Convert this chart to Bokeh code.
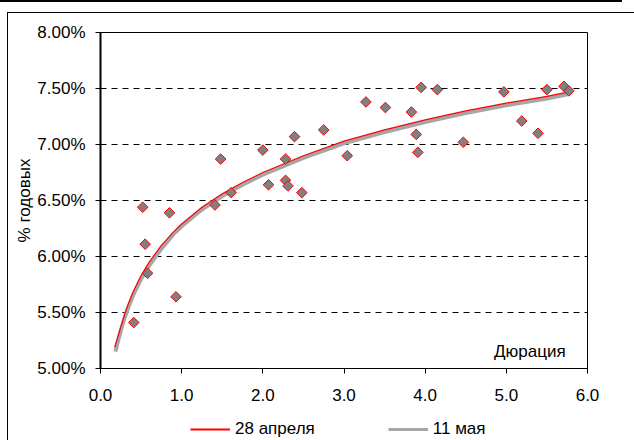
from bokeh.plotting import figure
from bokeh.layouts import column
from bokeh.models import (FixedTicker, PrintfTickFormatter, Legend, LegendItem,
                          Label, ColumnDataSource)
from bokeh.embed import file_html
from bokeh.resources import INLINE

# scatter points (duration, yield %)
dur = [0.41, 0.52, 0.55, 0.58, 0.85, 0.93, 1.41, 1.48, 1.61, 2.00, 2.07, 2.28,
       2.28, 2.31, 2.39, 2.48, 2.75, 3.04, 3.27, 3.51, 3.83, 3.89, 3.91, 3.95,
       4.15, 4.47, 4.97, 5.19, 5.39, 5.50, 5.71, 5.77]
yld = [5.41, 6.44, 6.11, 5.85, 6.39, 5.64, 6.46, 6.87, 6.57, 6.95, 6.64, 6.87,
       6.68, 6.63, 7.07, 6.57, 7.13, 6.90, 7.38, 7.33, 7.29, 7.09, 6.93, 7.51,
       7.49, 7.02, 7.47, 7.21, 7.10, 7.49, 7.52, 7.48]

# trend curve "28 апреля"
apr_x = [0.175, 0.2, 0.25, 0.3, 0.35, 0.4, 0.5, 0.6, 0.75, 0.9, 1.0, 1.25, 1.5,
         1.75, 2.0, 2.5, 3.0, 3.5, 4.0, 4.5, 5.0, 5.5, 5.77]
apr_y = [5.19, 5.25, 5.37, 5.49, 5.59, 5.68, 5.83, 5.95, 6.10, 6.22, 6.29, 6.44,
         6.56, 6.66, 6.75, 6.90, 7.03, 7.13, 7.22, 7.30, 7.37, 7.43, 7.47]

# trend curve "11 мая"
may_x = [0.185, 0.2, 0.25, 0.3, 0.35, 0.4, 0.5, 0.6, 0.75, 0.9, 1.0, 1.25, 1.5,
         1.75, 2.0, 2.5, 3.0, 3.5, 4.0, 4.5, 5.0, 5.5, 5.77]
may_y = [5.15, 5.20, 5.34, 5.46, 5.56, 5.65, 5.80, 5.92, 6.07, 6.20, 6.27, 6.42,
         6.54, 6.64, 6.73, 6.88, 7.01, 7.11, 7.20, 7.28, 7.35, 7.41, 7.45]

series_names = ["28 апреля", "11 мая"]
x_ticks = [0, 1, 2, 3, 4, 5, 6]
y_ticks = [5.0, 5.5, 6.0, 6.5, 7.0, 7.5, 8.0]
grid_ticks = [5.5, 6.0, 6.5, 7.0, 7.5]

FONT = "Liberation Sans"
FS = "17px"
RED = "#ff0000"
GRAY = "#a6a6a6"

p = figure(frame_width=487, frame_height=336, x_range=(0, 6), y_range=(5, 8),
           output_backend="svg", toolbar_location=None,
           min_border_left=92, min_border_right=47,
           min_border_top=19, min_border_bottom=42)

p.outline_line_color = "black"
p.outline_line_width = 1

p.xaxis.ticker = FixedTicker(ticks=x_ticks)
p.xaxis.formatter = PrintfTickFormatter(format="%.1f")
p.yaxis.ticker = FixedTicker(ticks=y_ticks)
p.yaxis.formatter = PrintfTickFormatter(format="%.2f%%")
for ax in (p.xaxis, p.yaxis):
    ax.minor_tick_line_color = None
    ax.major_tick_in = 0
    ax.major_tick_out = 5
    ax.major_tick_line_color = "black"
    ax.axis_line_color = "black"
    ax.major_label_text_font = FONT
    ax.major_label_text_font_size = FS
    ax.major_label_text_color = "black"
p.yaxis.axis_line_width = 2
p.xaxis.major_label_standoff = 15
p.yaxis.major_label_standoff = 10
p.yaxis.axis_label = "% годовых"
p.yaxis.axis_label_text_font = FONT
p.yaxis.axis_label_text_font_size = FS
p.yaxis.axis_label_text_font_style = "normal"
p.yaxis.axis_label_text_color = "black"
p.yaxis.axis_label_standoff = 0

p.xgrid.visible = False
p.ygrid.ticker = FixedTicker(ticks=grid_ticks)
p.ygrid.grid_line_color = "black"
p.ygrid.grid_line_dash = "6 5"
p.ygrid.grid_line_width = 1

p.line(may_x, may_y, line_color=GRAY, line_width=4)
p.line(apr_x, apr_y, line_color=RED, line_width=1.2)

src = ColumnDataSource(dict(x=dur, y=yld))
p.scatter("x", "y", source=src, marker="square", angle=0.785398, size=7.5,
          fill_color="#808080", line_color=RED, line_width=1)

p.add_layout(Label(x=5.73, y=5.152, text="Дюрация", text_align="right",
                   text_baseline="middle", text_font=FONT, text_font_size=FS,
                   text_color="black"))

# legend strip under the chart
p2 = figure(width=626, height=30, x_range=(10, 11), y_range=(0, 1),
            output_backend="svg", toolbar_location=None, min_border=0)
p2.axis.visible = False
p2.grid.visible = False
p2.outline_line_color = None
lr = p2.line(apr_x, apr_y, line_color=RED, line_width=2)
lg = p2.line(may_x, may_y, line_color=GRAY, line_width=3)
legend = Legend(items=[LegendItem(label=series_names[0], renderers=[lr]),
                       LegendItem(label=series_names[1], renderers=[lg])],
                orientation="horizontal", location=(90, 1),
                glyph_width=40, glyph_height=16, label_height=20,
                label_standoff=5, spacing=73,
                padding=0, margin=0, border_line_alpha=0,
                background_fill_alpha=0, label_text_font=FONT,
                label_text_font_size=FS, label_text_color="black")
p2.add_layout(legend)

lay = column(p, p2, spacing=0,
             styles={"margin-left": "7px", "margin-top": "12px",
                     "border-left": "1px solid black",
                     "border-top": "1px solid black"})
page = column(lay, spacing=0,
              styles={"background":
                      "linear-gradient(#000, #000) 0 0 / 622px 2px no-repeat"})

open("out.html", "w").write(file_html(page, INLINE))
